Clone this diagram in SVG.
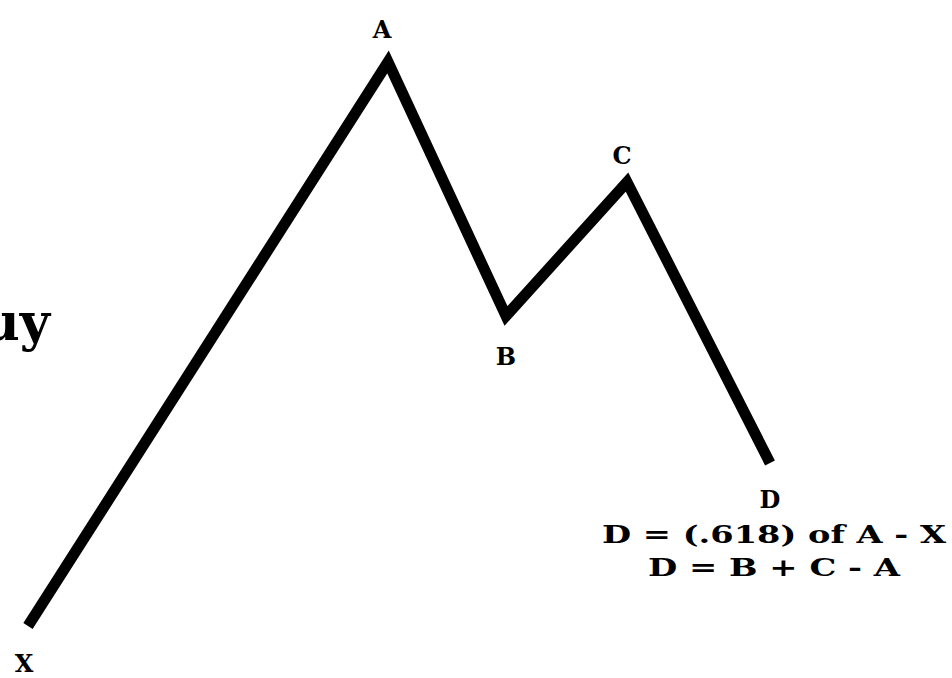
<svg xmlns="http://www.w3.org/2000/svg" width="952" height="678" viewBox="0 0 952 678">
<style>
.lbl{font-family:"DejaVu Serif","Liberation Serif",serif;font-weight:bold;fill:#000;text-anchor:middle}
.wave{fill:none;stroke:#000;stroke-width:11;stroke-linejoin:miter;stroke-linecap:butt}
</style>
<rect width="952" height="678" fill="#fff"/>
<text class="lbl" x="50" y="340" style="font-size:52px;text-anchor:end">uy</text>
<g id="connectors">
<polyline class="wave" points="28,626 388,62 506,316 627,182 770,463"/>
</g>
<g id="A"><text class="lbl" x="382" y="38" font-size="24">A</text></g>
<g id="B"><text class="lbl" x="506" y="365" font-size="24">B</text></g>
<g id="C"><text class="lbl" x="622" y="164" font-size="24">C</text></g>
<g id="D"><text class="lbl" x="770" y="508" font-size="24">D</text></g>
<g id="X"><text class="lbl" x="24" y="672" font-size="24">X</text></g>
<g id="formula">
<text class="lbl" x="774" y="543" font-size="25" textLength="344" lengthAdjust="spacingAndGlyphs">D = (.618) of A - X</text>
<text class="lbl" x="774" y="576" font-size="25" textLength="252" lengthAdjust="spacingAndGlyphs">D = B + C - A</text>
</g>
</svg>
